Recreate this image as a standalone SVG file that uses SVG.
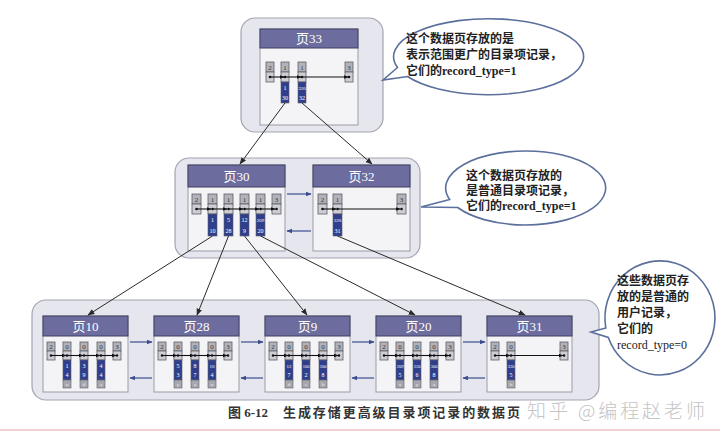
<svg xmlns="http://www.w3.org/2000/svg" width="720" height="440" viewBox="0 0 720 440">
<defs>
<marker id="ah" viewBox="0 0 10 10" refX="9" refY="5" markerWidth="7" markerHeight="7" markerUnits="userSpaceOnUse" orient="auto"><path d="M0,1 L10,5 L0,9 Z" fill="#2a2a2a"/></marker>
<marker id="ahs" viewBox="0 0 10 10" refX="9" refY="5" markerWidth="5" markerHeight="5" markerUnits="userSpaceOnUse" orient="auto"><path d="M0,1 L10,5 L0,9 Z" fill="#111"/></marker>
<marker id="ahb" viewBox="0 0 10 10" refX="9" refY="5" markerWidth="6" markerHeight="6" markerUnits="userSpaceOnUse" orient="auto"><path d="M0,1 L10,5 L0,9 Z" fill="#3b4d8f"/></marker>
<style>
.grp{fill:#e6e6ee;stroke:#a4a4b2;stroke-width:1.2}
.pg{fill:#f4f4f7;stroke:#9c9ca8;stroke-width:1}
.hd{fill:#6c6c9e;stroke:#3e3e60;stroke-width:1}
.hdt{fill:#fff;font-family:'Liberation Serif','Noto Sans CJK SC',serif;font-size:13px;text-anchor:middle}
.cg{fill:#b2b2ba;stroke:#5e5e66;stroke-width:0.8}
.cp{fill:#cdcdd3;stroke:#5e5e66;stroke-width:0.8}
.cb{fill:#2f3f8e;stroke:#5e5e66;stroke-width:0.6}
.cl{fill:#a6a6ae;stroke:#5e5e66;stroke-width:0.6}
.tg{fill:#333;font-family:'Liberation Serif',serif;font-size:7px;text-anchor:middle}
.tb{fill:#fff;font-family:'Liberation Serif',serif;font-size:6px;text-anchor:middle}
.tl{fill:#eee;font-family:'Liberation Serif',serif;font-size:5px;text-anchor:middle}
.dot{fill:#111}
.ptr{stroke:#111;stroke-width:1.1;fill:none;marker-end:url(#ahs)}
.pa{stroke:#3b4d8f;stroke-width:1.2;fill:none;marker-end:url(#ahb)}
.con{stroke:#2a2a2a;stroke-width:1;fill:none;marker-end:url(#ah)}
.bub{fill:#fff;stroke:#5b6f9c;stroke-width:1.6}
.bt{fill:#222;font-family:'Liberation Serif','Noto Sans CJK SC',serif;font-size:12px;font-weight:bold}
.cap{fill:#333;font-family:'Liberation Serif','Noto Sans CJK SC',serif;font-size:13px;font-weight:bold}
</style>
</defs>
<rect width="720" height="440" fill="#fff"/>

<!-- group backgrounds -->
<rect class="grp" x="241" y="18" width="142" height="114" rx="14"/>
<rect class="grp" x="175" y="158" width="245" height="100" rx="14"/>
<rect class="grp" x="32" y="300" width="567" height="100" rx="14"/>

<!-- page 33 -->
<g id="page33">
<rect class="pg" x="260" y="29" width="98" height="96"/>
<rect class="hd" x="260" y="29" width="98" height="19"/>
<text class="hdt" x="309" y="43">页33</text>
<rect class="cg" x="266" y="62" width="8" height="10"/><text class="tg" x="270" y="70">2</text>
<rect class="cp" x="266" y="72" width="8" height="10"/>
<rect class="cg" x="281" y="62" width="8" height="10"/><text class="tg" x="285" y="70">1</text>
<rect class="cp" x="281" y="72" width="8" height="10"/>
<rect class="cb" x="281" y="82" width="8" height="21"/><text class="tb" x="285" y="90">1</text><text class="tb" x="285" y="100">30</text>
<rect class="cg" x="298" y="62" width="8" height="10"/><text class="tg" x="302" y="70">1</text>
<rect class="cp" x="298" y="72" width="8" height="10"/>
<rect class="cb" x="298" y="82" width="8" height="21"/><text class="tb" x="302" y="90" style="font-size:5px">320</text><text class="tb" x="302" y="100">32</text>
<rect class="cg" x="345" y="62" width="8" height="10"/><text class="tg" x="349" y="70">3</text>
<rect class="cp" x="345" y="72" width="8" height="10"/>
<circle class="dot" cx="270" cy="77" r="1.3"/><circle class="dot" cx="285" cy="77" r="1.3"/><circle class="dot" cx="302" cy="77" r="1.3"/><circle class="dot" cx="349" cy="77" r="1.3"/>
<line class="ptr" x1="270" y1="77" x2="284" y2="77"/>
<line class="ptr" x1="285" y1="77" x2="301" y2="77"/>
<line class="ptr" x1="302" y1="77" x2="348" y2="77"/>
</g>

<!-- page 30 -->
<g id="page30">
<rect class="pg" x="188" y="165" width="97" height="86"/>
<rect class="hd" x="188" y="165" width="97" height="22"/>
<text class="hdt" x="236.5" y="181">页30</text>
<rect class="cg" x="192" y="194" width="9" height="10"/><text class="tg" x="196.5" y="202">2</text><rect class="cp" x="192" y="204" width="9" height="10"/>
<rect class="cg" x="208" y="194" width="9" height="10"/><text class="tg" x="212.5" y="202">1</text><rect class="cp" x="208" y="204" width="9" height="10"/>
<rect class="cb" x="208" y="214" width="9" height="22"/><text class="tb" x="212.5" y="222">1</text><text class="tb" x="212.5" y="233">10</text>
<rect class="cg" x="224" y="194" width="9" height="10"/><text class="tg" x="228.5" y="202">1</text><rect class="cp" x="224" y="204" width="9" height="10"/>
<rect class="cb" x="224" y="214" width="9" height="22"/><text class="tb" x="228.5" y="222">5</text><text class="tb" x="228.5" y="233">28</text>
<rect class="cg" x="240" y="194" width="9" height="10"/><text class="tg" x="244.5" y="202">1</text><rect class="cp" x="240" y="204" width="9" height="10"/>
<rect class="cb" x="240" y="214" width="9" height="22"/><text class="tb" x="244.5" y="222">12</text><text class="tb" x="244.5" y="233">9</text>
<rect class="cg" x="256" y="194" width="9" height="10"/><text class="tg" x="260.5" y="202">1</text><rect class="cp" x="256" y="204" width="9" height="10"/>
<rect class="cb" x="256" y="214" width="9" height="22"/><text class="tb" x="260.5" y="222" style="font-size:5px">209</text><text class="tb" x="260.5" y="233">20</text>
<rect class="cg" x="272" y="194" width="9" height="10"/><text class="tg" x="276.5" y="202">3</text><rect class="cp" x="272" y="204" width="9" height="10"/>
<circle class="dot" cx="196.5" cy="209" r="1.3"/><circle class="dot" cx="212.5" cy="209" r="1.3"/><circle class="dot" cx="228.5" cy="209" r="1.3"/><circle class="dot" cx="244.5" cy="209" r="1.3"/><circle class="dot" cx="260.5" cy="209" r="1.3"/><circle class="dot" cx="276.5" cy="209" r="1.3"/>
<line class="ptr" x1="196.5" y1="209" x2="211" y2="209"/>
<line class="ptr" x1="212.5" y1="209" x2="227" y2="209"/>
<line class="ptr" x1="228.5" y1="209" x2="243" y2="209"/>
<line class="ptr" x1="244.5" y1="209" x2="259" y2="209"/>
<line class="ptr" x1="260.5" y1="209" x2="275" y2="209"/>
</g>

<!-- page 32 -->
<g id="page32">
<rect class="pg" x="313" y="165" width="97" height="86"/>
<rect class="hd" x="313" y="165" width="97" height="22"/>
<text class="hdt" x="361.5" y="181">页32</text>
<rect class="cg" x="318" y="194" width="9" height="10"/><text class="tg" x="322.5" y="202">2</text><rect class="cp" x="318" y="204" width="9" height="10"/>
<rect class="cg" x="333" y="194" width="9" height="10"/><text class="tg" x="337.5" y="202">1</text><rect class="cp" x="333" y="204" width="9" height="10"/>
<rect class="cb" x="333" y="214" width="9" height="22"/><text class="tb" x="337.5" y="222" style="font-size:5px">320</text><text class="tb" x="337.5" y="233">31</text>
<rect class="cg" x="397" y="194" width="9" height="10"/><text class="tg" x="401.5" y="202">3</text><rect class="cp" x="397" y="204" width="9" height="10"/>
<circle class="dot" cx="322.5" cy="209" r="1.3"/><circle class="dot" cx="337.5" cy="209" r="1.3"/><circle class="dot" cx="401.5" cy="209" r="1.3"/>
<line class="ptr" x1="322.5" y1="209" x2="336" y2="209"/>
<line class="ptr" x1="337.5" y1="209" x2="400" y2="209"/>
</g>

<!-- bottom pages -->
<g id="page10">
<rect class="pg" x="43" y="316" width="85" height="76"/>
<rect class="hd" x="43" y="316" width="85" height="20"/>
<text class="hdt" x="85.5" y="331">页10</text>
<rect class="cg" x="47" y="342" width="8" height="9"/><text class="tg" x="51" y="349">2</text><rect class="cp" x="47" y="351" width="8" height="9"/>
<rect class="cg" x="63" y="342" width="8" height="9"/><text class="tg" x="67" y="349">0</text><rect class="cp" x="63" y="351" width="8" height="9"/>
<rect class="cb" x="63" y="360" width="8" height="20"/><text class="tb" x="67" y="368">1</text><text class="tb" x="67" y="377">4</text><rect class="cl" x="63" y="380" width="8" height="8"/><text class="tl" x="67" y="386">u</text>
<rect class="cg" x="80" y="342" width="8" height="9"/><text class="tg" x="84" y="349">0</text><rect class="cp" x="80" y="351" width="8" height="9"/>
<rect class="cb" x="80" y="360" width="8" height="20"/><text class="tb" x="84" y="368">3</text><text class="tb" x="84" y="377">9</text><rect class="cl" x="80" y="380" width="8" height="8"/><text class="tl" x="84" y="386">d</text>
<rect class="cg" x="97" y="342" width="8" height="9"/><text class="tg" x="101" y="349">0</text><rect class="cp" x="97" y="351" width="8" height="9"/>
<rect class="cb" x="97" y="360" width="8" height="20"/><text class="tb" x="101" y="368">4</text><text class="tb" x="101" y="377">4</text><rect class="cl" x="97" y="380" width="8" height="8"/><text class="tl" x="101" y="386">a</text>
<rect class="cg" x="113" y="342" width="8" height="9"/><text class="tg" x="117" y="349">3</text><rect class="cp" x="113" y="351" width="8" height="9"/>
<circle class="dot" cx="51" cy="355.5" r="1.2"/><circle class="dot" cx="67" cy="355.5" r="1.2"/><circle class="dot" cx="84" cy="355.5" r="1.2"/><circle class="dot" cx="101" cy="355.5" r="1.2"/><circle class="dot" cx="117" cy="355.5" r="1.2"/>
<line class="ptr" x1="51" y1="355.5" x2="66" y2="355.5"/><line class="ptr" x1="67" y1="355.5" x2="83" y2="355.5"/><line class="ptr" x1="84" y1="355.5" x2="100" y2="355.5"/><line class="ptr" x1="101" y1="355.5" x2="116" y2="355.5"/>
</g>

<g id="page28">
<rect class="pg" x="154" y="316" width="85" height="76"/>
<rect class="hd" x="154" y="316" width="85" height="20"/>
<text class="hdt" x="196.5" y="331">页28</text>
<rect class="cg" x="158" y="342" width="8" height="9"/><text class="tg" x="162" y="349">2</text><rect class="cp" x="158" y="351" width="8" height="9"/>
<rect class="cg" x="174" y="342" width="8" height="9"/><text class="tg" x="178" y="349">0</text><rect class="cp" x="174" y="351" width="8" height="9"/>
<rect class="cb" x="174" y="360" width="8" height="20"/><text class="tb" x="178" y="368">5</text><text class="tb" x="178" y="377">3</text><rect class="cl" x="174" y="380" width="8" height="8"/><text class="tl" x="178" y="386">y</text>
<rect class="cg" x="191" y="342" width="8" height="9"/><text class="tg" x="195" y="349">0</text><rect class="cp" x="191" y="351" width="8" height="9"/>
<rect class="cb" x="191" y="360" width="8" height="20"/><text class="tb" x="195" y="368">8</text><text class="tb" x="195" y="377">7</text><rect class="cl" x="191" y="380" width="8" height="8"/><text class="tl" x="195" y="386">a</text>
<rect class="cg" x="208" y="342" width="8" height="9"/><text class="tg" x="212" y="349">0</text><rect class="cp" x="208" y="351" width="8" height="9"/>
<rect class="cb" x="208" y="360" width="8" height="20"/><text class="tb" x="212" y="368" style="font-size:5px">10</text><text class="tb" x="212" y="377">4</text><rect class="cl" x="208" y="380" width="8" height="8"/><text class="tl" x="212" y="386">n</text>
<rect class="cg" x="224" y="342" width="8" height="9"/><text class="tg" x="228" y="349">3</text><rect class="cp" x="224" y="351" width="8" height="9"/>
<circle class="dot" cx="162" cy="355.5" r="1.2"/><circle class="dot" cx="178" cy="355.5" r="1.2"/><circle class="dot" cx="195" cy="355.5" r="1.2"/><circle class="dot" cx="212" cy="355.5" r="1.2"/><circle class="dot" cx="228" cy="355.5" r="1.2"/>
<line class="ptr" x1="162" y1="355.5" x2="177" y2="355.5"/><line class="ptr" x1="178" y1="355.5" x2="194" y2="355.5"/><line class="ptr" x1="195" y1="355.5" x2="211" y2="355.5"/><line class="ptr" x1="212" y1="355.5" x2="227" y2="355.5"/>
</g>

<g id="page9">
<rect class="pg" x="265" y="316" width="85" height="76"/>
<rect class="hd" x="265" y="316" width="85" height="20"/>
<text class="hdt" x="307.5" y="331">页9</text>
<rect class="cg" x="269" y="342" width="8" height="9"/><text class="tg" x="273" y="349">2</text><rect class="cp" x="269" y="351" width="8" height="9"/>
<rect class="cg" x="285" y="342" width="8" height="9"/><text class="tg" x="289" y="349">0</text><rect class="cp" x="285" y="351" width="8" height="9"/>
<rect class="cb" x="285" y="360" width="8" height="20"/><text class="tb" x="289" y="368" style="font-size:5px">12</text><text class="tb" x="289" y="377">7</text><rect class="cl" x="285" y="380" width="8" height="8"/><text class="tl" x="289" y="386">d</text>
<rect class="cg" x="302" y="342" width="8" height="9"/><text class="tg" x="306" y="349">0</text><rect class="cp" x="302" y="351" width="8" height="9"/>
<rect class="cb" x="302" y="360" width="8" height="20"/><text class="tb" x="306" y="368" style="font-size:4.5px">100</text><text class="tb" x="306" y="377">2</text><rect class="cl" x="302" y="380" width="8" height="8"/><text class="tl" x="306" y="386">e</text>
<rect class="cg" x="319" y="342" width="8" height="9"/><text class="tg" x="323" y="349">0</text><rect class="cp" x="319" y="351" width="8" height="9"/>
<rect class="cb" x="319" y="360" width="8" height="20"/><text class="tb" x="323" y="368" style="font-size:4.5px">200</text><text class="tb" x="323" y="377">8</text><rect class="cl" x="319" y="380" width="8" height="8"/><text class="tl" x="323" y="386">b</text>
<rect class="cg" x="335" y="342" width="8" height="9"/><text class="tg" x="339" y="349">3</text><rect class="cp" x="335" y="351" width="8" height="9"/>
<circle class="dot" cx="273" cy="355.5" r="1.2"/><circle class="dot" cx="289" cy="355.5" r="1.2"/><circle class="dot" cx="306" cy="355.5" r="1.2"/><circle class="dot" cx="323" cy="355.5" r="1.2"/><circle class="dot" cx="339" cy="355.5" r="1.2"/>
<line class="ptr" x1="273" y1="355.5" x2="288" y2="355.5"/><line class="ptr" x1="289" y1="355.5" x2="305" y2="355.5"/><line class="ptr" x1="306" y1="355.5" x2="322" y2="355.5"/><line class="ptr" x1="323" y1="355.5" x2="338" y2="355.5"/>
</g>

<g id="page20">
<rect class="pg" x="376" y="316" width="85" height="76"/>
<rect class="hd" x="376" y="316" width="85" height="20"/>
<text class="hdt" x="418.5" y="331">页20</text>
<rect class="cg" x="380" y="342" width="8" height="9"/><text class="tg" x="384" y="349">2</text><rect class="cp" x="380" y="351" width="8" height="9"/>
<rect class="cg" x="396" y="342" width="8" height="9"/><text class="tg" x="400" y="349">0</text><rect class="cp" x="396" y="351" width="8" height="9"/>
<rect class="cb" x="396" y="360" width="8" height="20"/><text class="tb" x="400" y="368" style="font-size:4.5px">209</text><text class="tb" x="400" y="377">5</text><rect class="cl" x="396" y="380" width="8" height="8"/><text class="tl" x="400" y="386">x</text>
<rect class="cg" x="413" y="342" width="8" height="9"/><text class="tg" x="417" y="349">0</text><rect class="cp" x="413" y="351" width="8" height="9"/>
<rect class="cb" x="413" y="360" width="8" height="20"/><text class="tb" x="417" y="368" style="font-size:4.5px">220</text><text class="tb" x="417" y="377">6</text><rect class="cl" x="413" y="380" width="8" height="8"/><text class="tl" x="417" y="386">y</text>
<rect class="cg" x="430" y="342" width="8" height="9"/><text class="tg" x="434" y="349">0</text><rect class="cp" x="430" y="351" width="8" height="9"/>
<rect class="cb" x="430" y="360" width="8" height="20"/><text class="tb" x="434" y="368" style="font-size:4.5px">300</text><text class="tb" x="434" y="377">8</text><rect class="cl" x="430" y="380" width="8" height="8"/><text class="tl" x="434" y="386">a</text>
<rect class="cg" x="446" y="342" width="8" height="9"/><text class="tg" x="450" y="349">3</text><rect class="cp" x="446" y="351" width="8" height="9"/>
<circle class="dot" cx="384" cy="355.5" r="1.2"/><circle class="dot" cx="400" cy="355.5" r="1.2"/><circle class="dot" cx="417" cy="355.5" r="1.2"/><circle class="dot" cx="434" cy="355.5" r="1.2"/><circle class="dot" cx="450" cy="355.5" r="1.2"/>
<line class="ptr" x1="384" y1="355.5" x2="399" y2="355.5"/><line class="ptr" x1="400" y1="355.5" x2="416" y2="355.5"/><line class="ptr" x1="417" y1="355.5" x2="433" y2="355.5"/><line class="ptr" x1="434" y1="355.5" x2="449" y2="355.5"/>
</g>

<g id="page31">
<rect class="pg" x="487" y="316" width="85" height="76"/>
<rect class="hd" x="487" y="316" width="85" height="20"/>
<text class="hdt" x="529.5" y="331">页31</text>
<rect class="cg" x="491" y="342" width="8" height="9"/><text class="tg" x="495" y="349">2</text><rect class="cp" x="491" y="351" width="8" height="9"/>
<rect class="cg" x="507" y="342" width="8" height="9"/><text class="tg" x="511" y="349">0</text><rect class="cp" x="507" y="351" width="8" height="9"/>
<rect class="cb" x="507" y="360" width="8" height="20"/><text class="tb" x="511" y="368" style="font-size:4.5px">320</text><text class="tb" x="511" y="377">5</text><rect class="cl" x="507" y="380" width="8" height="8"/><text class="tl" x="511" y="386">b</text>
<rect class="cg" x="560" y="342" width="8" height="9"/><text class="tg" x="564" y="349">3</text><rect class="cp" x="560" y="351" width="8" height="9"/>
<circle class="dot" cx="495" cy="355.5" r="1.2"/><circle class="dot" cx="511" cy="355.5" r="1.2"/><circle class="dot" cx="564" cy="355.5" r="1.2"/>
<line class="ptr" x1="495" y1="355.5" x2="510" y2="355.5"/><line class="ptr" x1="511" y1="355.5" x2="563" y2="355.5"/>
</g>

<!-- connectors -->
<g id="connectors">
<line class="con" x1="285" y1="103" x2="240" y2="164"/>
<line class="con" x1="302" y1="103" x2="372" y2="164"/>
<line class="con" x1="212.5" y1="236" x2="88" y2="315"/>
<line class="con" x1="228.5" y1="236" x2="197" y2="315"/>
<line class="con" x1="244.5" y1="236" x2="307" y2="315"/>
<line class="con" x1="260.5" y1="236" x2="415" y2="315"/>
<line class="con" x1="337.5" y1="236" x2="525" y2="315"/>
<line class="pa" x1="287" y1="194" x2="311" y2="194"/>
<line class="pa" x1="311" y1="231" x2="287" y2="231"/>
<line class="pa" x1="130" y1="342" x2="152" y2="342"/>
<line class="pa" x1="152" y1="378" x2="130" y2="378"/>
<line class="pa" x1="241" y1="342" x2="263" y2="342"/>
<line class="pa" x1="263" y1="378" x2="241" y2="378"/>
<line class="pa" x1="352" y1="342" x2="374" y2="342"/>
<line class="pa" x1="374" y1="378" x2="352" y2="378"/>
<line class="pa" x1="463" y1="342" x2="485" y2="342"/>
<line class="pa" x1="485" y1="378" x2="463" y2="378"/>
</g>

<!-- callouts -->
<g id="callout1">
<path class="bub" d="M397.5,67.5 L383,80 L407.5,76.5 A95 38 0 1 0 397.5,67.5 Z"/>
<text class="bt" x="406" y="43">这个数据页存放的是</text>
<text class="bt" x="406" y="59">表示范围更广的目录项记录，</text>
<text class="bt" x="406" y="75">它们的record_type=1</text>
</g>
<g id="callout2">
<path class="bub" d="M449.7,199.6 L421,207 L457.7,207.5 A80 37 0 1 0 449.7,199.6 Z"/>
<text class="bt" x="466" y="180">这个数据页存放的</text>
<text class="bt" x="466" y="195">是普通目录项记录，</text>
<text class="bt" x="466" y="210">它们的record_type=1</text>
</g>
<g id="callout3">
<path class="bub" d="M605.8,327.9 L591,332 L608.3,337.5 A55 57 0 1 0 605.8,327.9 Z"/>
<text class="bt" x="617" y="285">这些数据页存</text>
<text class="bt" x="617" y="301">放的是普通的</text>
<text class="bt" x="617" y="317">用户记录，</text>
<text class="bt" x="617" y="333">它们的</text>
<text class="bt" x="617" y="349" style="font-weight:normal">record_type=0</text>
</g>

<!-- caption -->
<text class="cap" x="228" y="417">图 6-12</text>
<text class="cap" x="283" y="417" textLength="237">生成存储更高级目录项记录的数据页</text>
<text x="527" y="418" fill="#c4c4c4" style="font-family:'Noto Sans CJK SC',sans-serif;font-size:19px;font-weight:300" textLength="178">知乎 @编程赵老师</text>
<line x1="0" y1="430" x2="720" y2="430" stroke="#ecc0c0" stroke-width="1.5"/>
</svg>
